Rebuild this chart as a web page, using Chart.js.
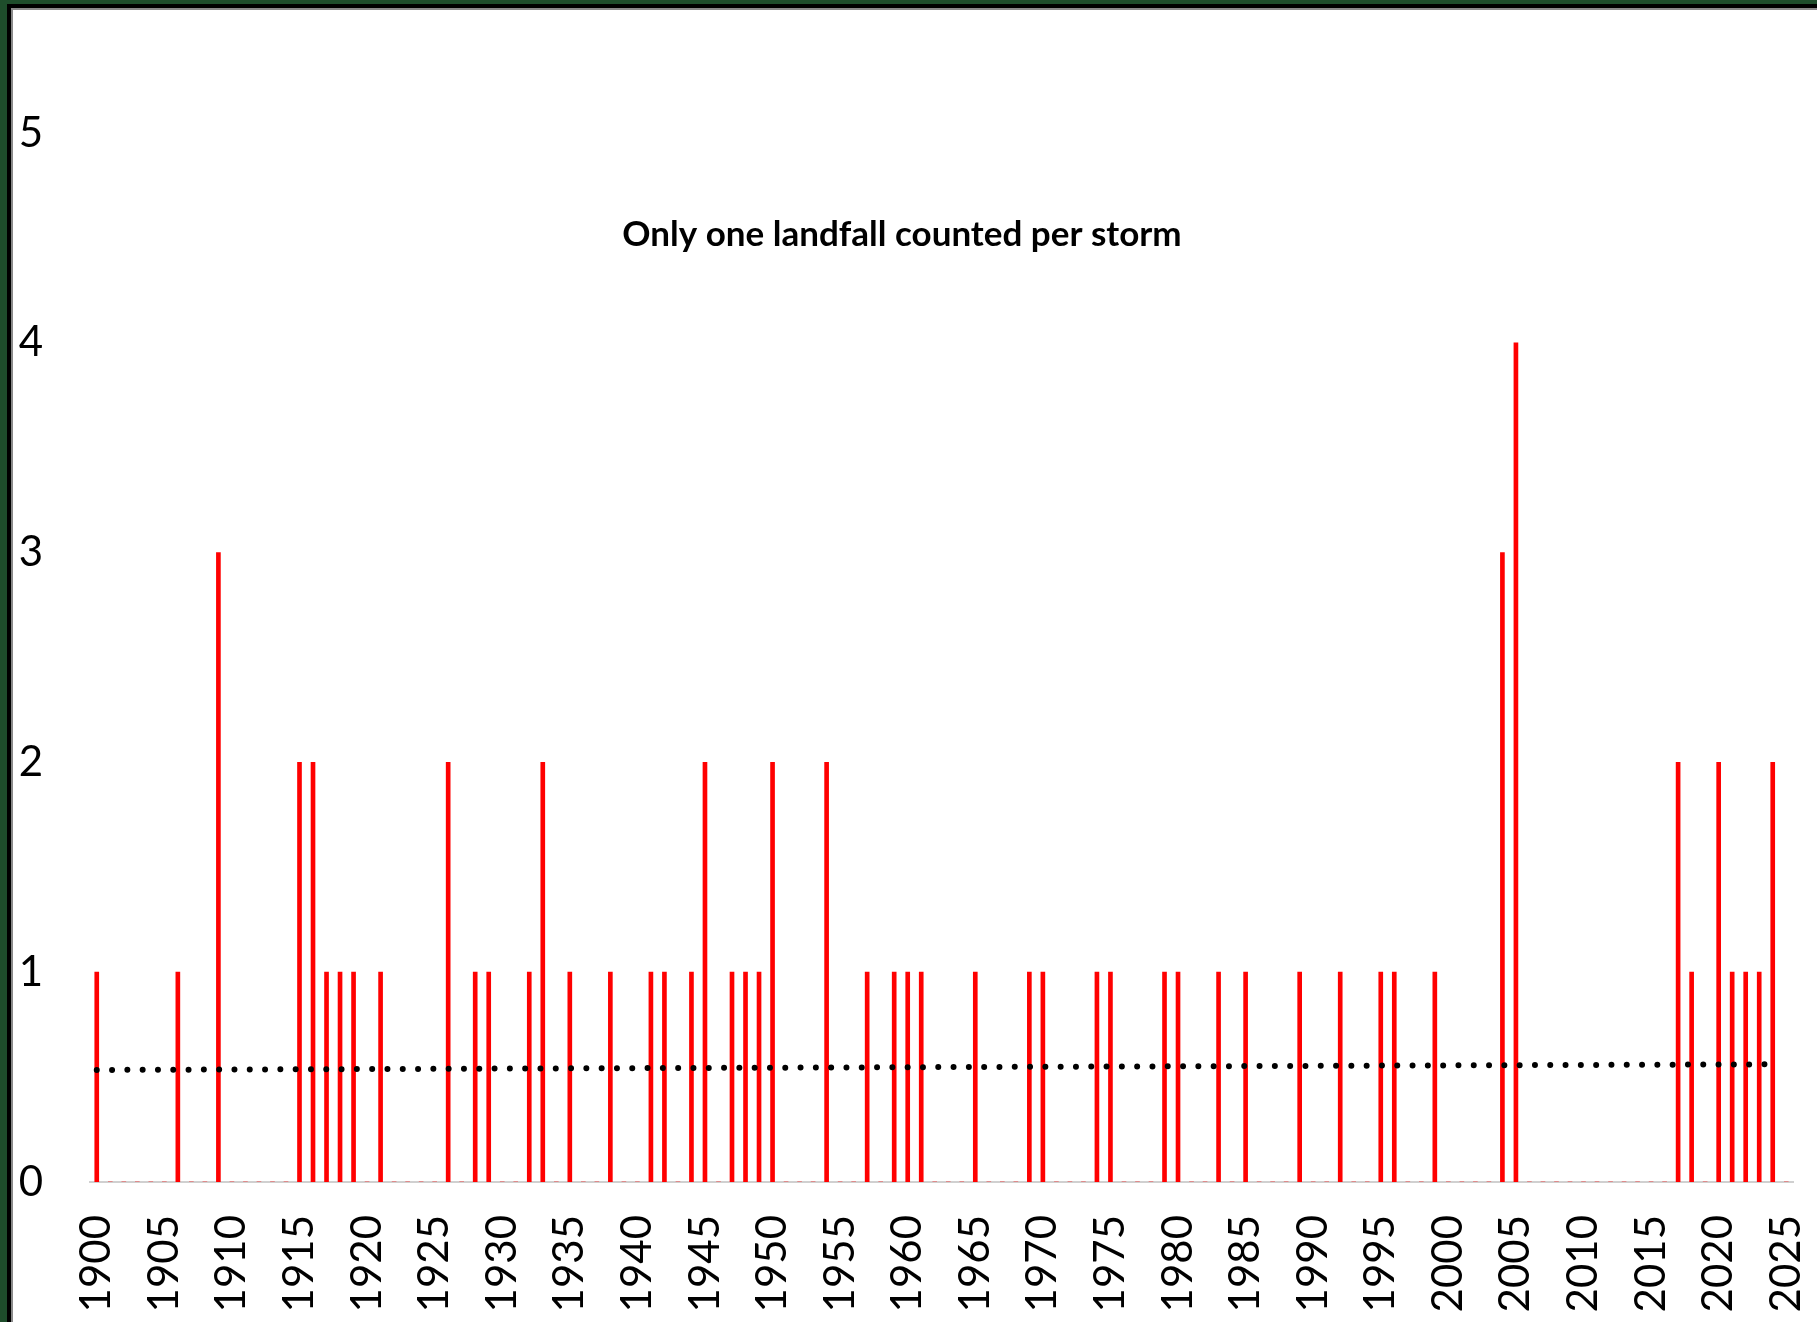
<!DOCTYPE html>
<html>
<head>
<meta charset="utf-8">
<script src="https://cdn.jsdelivr.net/npm/chart.js@4.4.0/dist/chart.umd.min.js"></script>
<style>
  html, body { margin: 0; padding: 0; background: #fff; }
  #wrap { position: relative; width: 1817px; height: 1322px; overflow: hidden; background: #fff; }
  #chart { position: absolute; left: 0; top: 0; }
  .frame { position: absolute; }
</style>
</head>
<body>
<div id="wrap">
  <canvas id="chart" width="1817" height="1322"></canvas>
  <div class="frame" style="left:0;top:0;width:7px;height:1322px;background:#1e4d2b"></div>
  <div class="frame" style="left:0;top:0;width:1817px;height:4px;background:#1e4d2b"></div>
  <div class="frame" style="left:7px;top:4px;width:4px;height:1318px;background:#000"></div>
  <div class="frame" style="left:7px;top:4px;width:1810px;height:4px;background:#000"></div>
  <div class="frame" style="left:11px;top:8px;width:2px;height:1314px;background:#8a8a8a"></div>
  <div class="frame" style="left:11px;top:8px;width:1806px;height:2px;background:#8a8a8a"></div>
</div>
<script>
// landfall years and number of landfalling storms in that year
const landfallYears = [1900, 1906, 1909, 1915, 1916, 1917, 1918, 1919, 1921, 1926,
  1928, 1929, 1932, 1933, 1935, 1938, 1941, 1942, 1944, 1945,
  1947, 1948, 1949, 1950, 1954, 1957, 1959, 1960, 1961, 1965,
  1969, 1970, 1974, 1975, 1979, 1980, 1983, 1985, 1989, 1992,
  1995, 1996, 1999, 2004, 2005, 2017, 2018, 2020, 2021, 2022,
  2023, 2024];
const landfallCounts = [1, 1, 3, 2, 2, 1, 1, 1, 1, 2,
  1, 1, 1, 2, 1, 1, 1, 1, 1, 2,
  1, 1, 1, 2, 2, 1, 1, 1, 1, 1,
  1, 1, 1, 1, 1, 1, 1, 1, 1, 1,
  1, 1, 1, 3, 4, 2, 1, 2, 1, 1,
  1, 2];

// axis categories
const firstYear = 1900;
const lastYear = 2025;
const tickEvery = 5;
const yTicks = [0, 1, 2, 3, 4, 5];

// linear trend line (at its two ends)
const trendYears = ['1900', '2024'];
const trendValues = [0.534, 0.561];

const chartTitle = 'Only one landfall counted per storm';

const categories = [];
for (let y = firstYear; y <= lastYear; y++) categories.push(String(y));

const barValues = categories.map((c) => {
  const i = landfallYears.indexOf(+c);
  return i === -1 ? 0 : landfallCounts[i];
});

const titlePlugin = {
  id: 'overlayTitle',
  afterDraw(chart) {
    const ctx = chart.ctx;
    ctx.save();
    ctx.font = 'bold 35px Lato';
    ctx.fillStyle = '#000';
    ctx.textAlign = 'center';
    ctx.textBaseline = 'alphabetic';
    ctx.fillText(chartTitle, 902, 246);
    ctx.restore();
  }
};

function draw() {
  new Chart(document.getElementById('chart'), {
    type: 'bar',
    data: {
      labels: categories,
      datasets: [{
        type: 'line',
        data: trendYears.map((y, i) => ({ x: y, y: trendValues[i] })),
        borderColor: '#000',
        borderWidth: 6,
        borderDash: [0, 15.3],
        borderCapStyle: 'round',
        pointRadius: 0,
        fill: false,
        order: 0
      }, {
        data: barValues,
        backgroundColor: '#ff0000',
        barThickness: 4,
        order: 1
      }]
    },
    options: {
      responsive: false,
      animation: false,
      devicePixelRatio: 1,
      layout: { padding: { top: 133, right: 24, bottom: 0, left: 0 } },
      plugins: {
        legend: { display: false },
        title: { display: false },
        tooltip: { enabled: false }
      },
      scales: {
        x: {
          grid: { display: false, drawTicks: false },
          border: { display: true, color: '#d0d0d0', width: 2 },
          ticks: {
            autoSkip: false,
            minRotation: 90,
            maxRotation: 90,
            padding: 33,
            color: '#000',
            font: { family: 'Lato', size: 42 },
            callback: function (val) {
              const label = this.getLabelForValue(val);
              return (+label - firstYear) % tickEvery === 0 ? label : '';
            }
          },
          afterFit(scale) {
            scale.height = 140;
            scale.paddingLeft = 0;
            scale.paddingRight = 0;
          }
        },
        y: {
          min: yTicks[0],
          max: yTicks[yTicks.length - 1],
          grid: { display: false, drawTicks: false },
          border: { display: false },
          ticks: {
            stepSize: 1,
            padding: 47,
            color: '#000',
            font: { family: 'Lato', size: 42 }
          },
          afterFit(scale) {
            scale.width = 90;
          }
        }
      }
    },
    plugins: [titlePlugin]
  });
}

Promise.all([
  document.fonts.load('42px Lato'),
  document.fonts.load('bold 35px Lato')
]).then(draw, draw);
</script>
</body>
</html>
